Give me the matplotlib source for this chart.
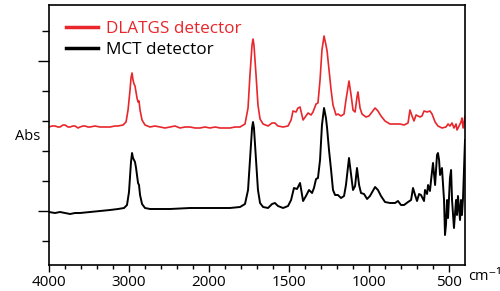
import numpy as np
import matplotlib
matplotlib.use('Agg')
import matplotlib.pyplot as plt
from matplotlib.ticker import FixedLocator, NullFormatter

plt.rcParams['font.family'] = ['Open Sans', 'DejaVu Sans']

# wavenumbers (cm-1) and absorbance (mAbs, arbitrary zero)
mct_wn = [4000, 3925, 3862, 3800, 3737, 3675, 3612, 3487, 3362, 3237, 3137, 3062,
          3025, 3000, 2975, 2962, 2950, 2937, 2925, 2912, 2900, 2887, 2875, 2862,
          2837, 2800, 2737, 2487, 2237, 1994, 1869, 1806, 1775, 1756, 1744, 1731,
          1725, 1719, 1706, 1694, 1681, 1662, 1631, 1606, 1588, 1569, 1537, 1506,
          1487, 1469, 1450, 1431, 1412, 1394, 1375, 1356, 1344, 1331, 1319, 1306,
          1294, 1281, 1269, 1262, 1250, 1237, 1225, 1212, 1194, 1175, 1156, 1144,
          1125, 1112, 1100, 1087, 1075, 1062, 1050, 1031, 1012, 994, 962, 944,
          925, 900, 869, 837, 819, 800, 781, 756, 737, 725, 712, 700, 687, 675,
          656, 650, 637, 631, 619, 612, 600, 587, 575, 569, 562, 556, 544, 531,
          525, 519, 512, 506, 494, 487, 481, 469, 456, 450, 444, 431, 425, 419,
          412, 406, 400]
mct_abs = [-1, -2, -1, -2, -3, -2, -2, -1, 0, 1, 2, 3,
           6, 19, 49, 58, 53, 51, 49, 43, 36, 28, 26, 16,
           7, 3, 2, 2, 3, 3, 3, 4, 7, 21, 51, 83,
           89, 83, 51, 21, 8, 4, 3, 7, 8, 5, 3, 5,
           11, 23, 22, 28, 10, 15, 21, 18, 23, 32, 33, 51,
           86, 103, 93, 83, 61, 41, 21, 16, 16, 13, 15, 26,
           53, 36, 21, 25, 43, 26, 18, 17, 12, 15, 24, 21,
           15, 9, 8, 8, 10, 6, 6, 9, 11, 23, 16, 10, 17, 16,
           10, 21, 17, 26, 20, 31, 48, 26, 56, 58, 51, 36, 43, 11,
           -24, -14, 11, -7, 33, 41, 11, -17, 11, -4, 15, -9, 11, -4,
           14, 41, 71]

dlatgs_wn = [4000, 3962, 3925, 3887, 3862, 3825, 3800, 3762, 3737, 3700, 3675, 3637,
             3612, 3575, 3550, 3512, 3487, 3425, 3362, 3300, 3237, 3175, 3137, 3075,
             3037, 3012, 2987, 2975, 2962, 2950, 2937, 2925, 2912, 2900, 2887, 2875,
             2862, 2837, 2800, 2737, 2675, 2612, 2550, 2487, 2425, 2362, 2300, 2237,
             2175, 2112, 2050, 1994, 1962, 1931, 1900, 1869, 1837, 1806, 1775, 1756,
             1744, 1731, 1725, 1719, 1706, 1694, 1681, 1662, 1631, 1606, 1588, 1569,
             1537, 1506, 1487, 1475, 1456, 1444, 1431, 1419, 1412, 1394, 1381, 1362,
             1350, 1331, 1319, 1306, 1294, 1281, 1269, 1262, 1250, 1237, 1225, 1206,
             1194, 1175, 1156, 1144, 1125, 1112, 1100, 1087, 1075, 1069, 1056, 1044,
             1019, 1000, 981, 962, 944, 925, 900, 869, 837, 806, 781, 756, 744, 731,
             719, 706, 694, 681, 669, 656, 637, 619, 606, 587, 569, 544, 519, 506,
             494, 481, 469, 456, 450, 437, 425, 419, 412, 400]
dlatgs_abs = [0, 1, 1, 0, 0, 2, 2, 0, 0, 1, 1, -1,
              0, 1, 1, 0, 0, 1, 0, 0, 0, 1, 1, 2,
              5, 17, 37, 49, 54, 47, 43, 41, 35, 29, 25, 26,
              17, 7, 2, 0, 1, 0, -1, 0, 1, -1, 0, 0,
              -1, -1, 0, -1, 0, -1, -1, -1, 0, 0, 3, 19,
              52, 82, 88, 82, 52, 22, 8, 3, 1, 4, 4, 1,
              0, 1, 7, 16, 15, 19, 20, 12, 7, 11, 14, 12,
              15, 23, 24, 47, 77, 91, 82, 76, 57, 37, 22, 12,
              13, 11, 13, 27, 46, 32, 17, 15, 30, 35, 19, 13,
              10, 11, 15, 19, 16, 11, 6, 3, 3, 3, 2, 4, 17, 11,
              6, 12, 11, 10, 11, 16, 15, 16, 13, 5, 1, -1, 0, 3,
              1, 4, -1, 3, -3, 1, 5, 9, -1, 11]
dlatgs_offset = 84

labels = ['DLATGS detector', 'MCT detector']
colors = ['#e8262b', '#000000']

major_wn = [4000, 3000, 2000, 1500, 1000, 500]
major_txt = ['4000', '3000', '2000', '1500', '1000', '500']


def fwd(x):
    x = np.asarray(x, dtype=float)
    return np.where(x >= 2000, x, 2 * x - 2000)


def inv(y):
    y = np.asarray(y, dtype=float)
    return np.where(y >= 2000, y, (y + 2000) / 2)


fig = plt.figure(figsize=(5, 2.91), dpi=100)
ax = fig.add_axes([49 / 500, 26 / 291, 416 / 500, 260 / 291])
ax.set_xscale('function', functions=(fwd, inv))

ax.plot(dlatgs_wn, np.array(dlatgs_abs) + dlatgs_offset, color=colors[0],
        lw=1.2, label=labels[0])
ax.plot(mct_wn, mct_abs, color=colors[1], lw=1.4, label=labels[1])

ax.set_xlim(4000, 400)
ax.set_ylim(-54, 206)

minor_wn = [w for w in list(range(3800, 2000, -200)) + list(range(1900, 400, -100))
            if w not in major_wn]
ax.xaxis.set_major_locator(FixedLocator(major_wn))
ax.set_xticklabels(major_txt)
ax.xaxis.set_minor_locator(FixedLocator(minor_wn))
ax.xaxis.set_minor_formatter(NullFormatter())

ax.yaxis.set_major_locator(FixedLocator([0, 150]))
ax.yaxis.set_minor_locator(FixedLocator([-30, 30, 60, 90, 120, 180]))
ax.set_yticklabels([])

ax.tick_params(axis='x', which='major', length=5, width=1, labelsize=11, pad=2)
ax.tick_params(axis='x', which='minor', length=3, width=1)
ax.tick_params(axis='y', which='major', length=8, width=1)
ax.tick_params(axis='y', which='minor', length=5, width=1)
for s in ax.spines.values():
    s.set_linewidth(1.2)

fig.text(468 / 500, 0.050, 'cm⁻¹', fontsize=10.5, va='center', ha='left')
fig.text(15 / 500, (291 - 137) / 291, 'Abs', fontsize=10.5, va='center', ha='left')

ax.legend(loc='upper left', bbox_to_anchor=(0.012, 0.985), frameon=False,
          fontsize=12.3, handlelength=1.9, handletextpad=0.45, labelspacing=0.3,
          labelcolor='linecolor', borderaxespad=0.3)
for h in ax.get_legend().get_lines():
    h.set_linewidth(2.5)

fig.savefig('out.png', dpi=100)
